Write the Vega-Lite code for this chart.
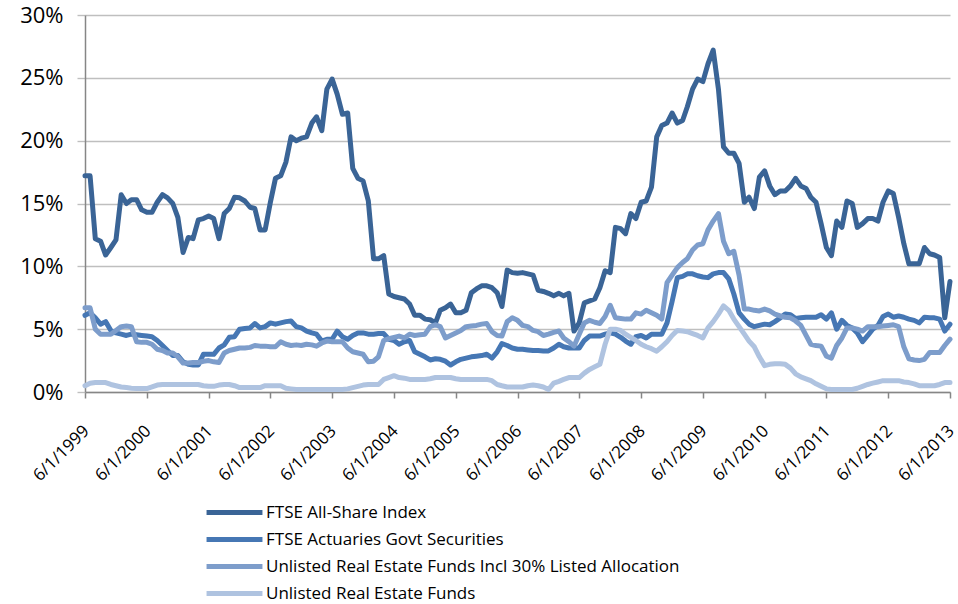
{
"$schema": "https://vega.github.io/schema/vega-lite/v6.json",
"width": 865, "height": 377,
"autosize": {"type": "none"},
"padding": {"left": 85, "top": 15, "right": 8, "bottom": 212},
"background": "white",
"datasets": {
"names": [
{"k": "a", "name": "FTSE All-Share Index"},
{"k": "g", "name": "FTSE Actuaries Govt Securities"},
{"k": "r", "name": "Unlisted Real Estate Funds Incl 30% Listed Allocation"},
{"k": "u", "name": "Unlisted Real Estate Funds"}
],
"main": [
{"d":"1999-06-01","a":17.2,"g":6.1,"r":6.7,"u":0.5},
{"d":"1999-07-01","a":17.2,"g":6.3,"r":6.7,"u":0.7},
{"d":"1999-08-01","a":12.2,"g":5.9,"r":5.0,"u":0.75},
{"d":"1999-09-01","a":12.0,"g":5.4,"r":4.6,"u":0.75},
{"d":"1999-10-01","a":10.9,"g":5.6,"r":4.6,"u":0.75},
{"d":"1999-11-01","a":11.5,"g":4.9,"r":4.6,"u":0.6},
{"d":"1999-12-01","a":12.1,"g":4.7,"r":4.9,"u":0.5},
{"d":"2000-01-01","a":15.7,"g":4.6,"r":5.2,"u":0.4},
{"d":"2000-02-01","a":15.0,"g":4.5,"r":5.25,"u":0.35},
{"d":"2000-03-01","a":15.3,"g":4.6,"r":5.2,"u":0.3},
{"d":"2000-04-01","a":15.3,"g":4.55,"r":4.0,"u":0.27},
{"d":"2000-05-01","a":14.5,"g":4.5,"r":3.95,"u":0.27},
{"d":"2000-06-01","a":14.3,"g":4.45,"r":3.95,"u":0.27},
{"d":"2000-07-01","a":14.3,"g":4.4,"r":3.8,"u":0.4},
{"d":"2000-08-01","a":15.1,"g":4.1,"r":3.4,"u":0.55},
{"d":"2000-09-01","a":15.7,"g":3.7,"r":3.3,"u":0.6},
{"d":"2000-10-01","a":15.45,"g":3.3,"r":3.1,"u":0.6},
{"d":"2000-11-01","a":15.0,"g":2.9,"r":3.1,"u":0.6},
{"d":"2000-12-01","a":13.9,"g":2.9,"r":2.8,"u":0.6},
{"d":"2001-01-01","a":11.1,"g":2.4,"r":2.3,"u":0.6},
{"d":"2001-02-01","a":12.3,"g":2.2,"r":2.3,"u":0.6},
{"d":"2001-03-01","a":12.2,"g":2.15,"r":2.35,"u":0.6},
{"d":"2001-04-01","a":13.7,"g":2.15,"r":2.35,"u":0.6},
{"d":"2001-05-01","a":13.8,"g":3.0,"r":2.45,"u":0.5},
{"d":"2001-06-01","a":14.0,"g":3.0,"r":2.5,"u":0.45},
{"d":"2001-07-01","a":13.8,"g":3.0,"r":2.4,"u":0.45},
{"d":"2001-08-01","a":12.2,"g":3.5,"r":2.35,"u":0.55},
{"d":"2001-09-01","a":14.2,"g":3.75,"r":3.1,"u":0.6},
{"d":"2001-10-01","a":14.6,"g":4.35,"r":3.3,"u":0.6},
{"d":"2001-11-01","a":15.5,"g":4.4,"r":3.4,"u":0.5},
{"d":"2001-12-01","a":15.45,"g":5.0,"r":3.5,"u":0.35},
{"d":"2002-01-01","a":15.2,"g":5.05,"r":3.5,"u":0.35},
{"d":"2002-02-01","a":14.7,"g":5.1,"r":3.55,"u":0.35},
{"d":"2002-03-01","a":14.6,"g":5.45,"r":3.7,"u":0.35},
{"d":"2002-04-01","a":12.9,"g":5.1,"r":3.65,"u":0.35},
{"d":"2002-05-01","a":12.9,"g":5.2,"r":3.65,"u":0.5},
{"d":"2002-06-01","a":15.1,"g":5.5,"r":3.6,"u":0.5},
{"d":"2002-07-01","a":17.0,"g":5.4,"r":3.6,"u":0.5},
{"d":"2002-08-01","a":17.2,"g":5.5,"r":4.0,"u":0.5},
{"d":"2002-09-01","a":18.3,"g":5.6,"r":3.8,"u":0.3},
{"d":"2002-10-01","a":20.3,"g":5.65,"r":3.7,"u":0.25},
{"d":"2002-11-01","a":20.0,"g":5.2,"r":3.75,"u":0.2},
{"d":"2002-12-01","a":20.2,"g":5.1,"r":3.7,"u":0.2},
{"d":"2003-01-01","a":20.3,"g":4.85,"r":3.8,"u":0.2},
{"d":"2003-02-01","a":21.4,"g":4.7,"r":3.75,"u":0.2},
{"d":"2003-03-01","a":21.9,"g":4.6,"r":3.65,"u":0.2},
{"d":"2003-04-01","a":20.8,"g":4.05,"r":3.9,"u":0.2},
{"d":"2003-05-01","a":24.1,"g":4.2,"r":4.05,"u":0.2},
{"d":"2003-06-01","a":24.9,"g":4.2,"r":4.0,"u":0.2},
{"d":"2003-07-01","a":23.7,"g":4.85,"r":4.0,"u":0.2},
{"d":"2003-08-01","a":22.1,"g":4.4,"r":4.0,"u":0.2},
{"d":"2003-09-01","a":22.2,"g":4.2,"r":3.5,"u":0.25},
{"d":"2003-10-01","a":17.8,"g":4.5,"r":3.2,"u":0.35},
{"d":"2003-11-01","a":17.0,"g":4.7,"r":3.1,"u":0.45},
{"d":"2003-12-01","a":16.8,"g":4.7,"r":3.0,"u":0.55},
{"d":"2004-01-01","a":15.2,"g":4.6,"r":2.4,"u":0.6},
{"d":"2004-02-01","a":10.6,"g":4.6,"r":2.45,"u":0.6},
{"d":"2004-03-01","a":10.6,"g":4.65,"r":2.8,"u":0.6},
{"d":"2004-04-01","a":10.85,"g":4.65,"r":4.1,"u":1.0},
{"d":"2004-05-01","a":7.8,"g":4.2,"r":4.25,"u":1.15},
{"d":"2004-06-01","a":7.6,"g":4.1,"r":4.35,"u":1.3},
{"d":"2004-07-01","a":7.5,"g":3.8,"r":4.45,"u":1.15},
{"d":"2004-08-01","a":7.4,"g":4.0,"r":4.3,"u":1.1},
{"d":"2004-09-01","a":7.0,"g":4.1,"r":4.6,"u":1.0},
{"d":"2004-10-01","a":6.1,"g":3.2,"r":4.5,"u":1.0},
{"d":"2004-11-01","a":6.1,"g":3.0,"r":4.55,"u":1.0},
{"d":"2004-12-01","a":5.8,"g":2.8,"r":4.6,"u":1.0},
{"d":"2005-01-01","a":5.75,"g":2.55,"r":5.2,"u":1.05},
{"d":"2005-02-01","a":5.5,"g":2.65,"r":5.35,"u":1.15},
{"d":"2005-03-01","a":6.5,"g":2.6,"r":5.2,"u":1.15},
{"d":"2005-04-01","a":6.7,"g":2.45,"r":4.3,"u":1.15},
{"d":"2005-05-01","a":7.0,"g":2.15,"r":4.5,"u":1.15},
{"d":"2005-06-01","a":6.3,"g":2.4,"r":4.7,"u":1.05},
{"d":"2005-07-01","a":6.3,"g":2.6,"r":4.9,"u":1.0},
{"d":"2005-08-01","a":6.5,"g":2.7,"r":5.2,"u":1.0},
{"d":"2005-09-01","a":7.9,"g":2.8,"r":5.25,"u":1.0},
{"d":"2005-10-01","a":8.2,"g":2.85,"r":5.3,"u":1.0},
{"d":"2005-11-01","a":8.45,"g":2.9,"r":5.4,"u":1.0},
{"d":"2005-12-01","a":8.45,"g":3.0,"r":5.45,"u":1.0},
{"d":"2006-01-01","a":8.3,"g":2.7,"r":4.8,"u":0.9},
{"d":"2006-02-01","a":7.9,"g":3.2,"r":4.5,"u":0.6},
{"d":"2006-03-01","a":6.8,"g":3.85,"r":4.45,"u":0.5},
{"d":"2006-04-01","a":9.7,"g":3.7,"r":5.6,"u":0.4},
{"d":"2006-05-01","a":9.5,"g":3.5,"r":5.9,"u":0.4},
{"d":"2006-06-01","a":9.45,"g":3.4,"r":5.7,"u":0.4},
{"d":"2006-07-01","a":9.5,"g":3.4,"r":5.3,"u":0.4},
{"d":"2006-08-01","a":9.4,"g":3.35,"r":5.2,"u":0.5},
{"d":"2006-09-01","a":9.3,"g":3.3,"r":4.9,"u":0.55},
{"d":"2006-10-01","a":8.1,"g":3.3,"r":4.8,"u":0.5},
{"d":"2006-11-01","a":8.0,"g":3.27,"r":4.5,"u":0.4},
{"d":"2006-12-01","a":7.85,"g":3.27,"r":4.6,"u":0.2},
{"d":"2007-01-01","a":7.65,"g":3.5,"r":4.75,"u":0.7},
{"d":"2007-02-01","a":7.85,"g":3.8,"r":4.85,"u":0.85},
{"d":"2007-03-01","a":7.65,"g":3.6,"r":4.3,"u":1.0},
{"d":"2007-04-01","a":7.85,"g":3.5,"r":4.0,"u":1.15},
{"d":"2007-05-01","a":4.85,"g":3.5,"r":3.65,"u":1.15},
{"d":"2007-06-01","a":5.5,"g":3.5,"r":4.6,"u":1.15},
{"d":"2007-07-01","a":7.1,"g":4.1,"r":5.5,"u":1.5},
{"d":"2007-08-01","a":7.25,"g":4.45,"r":5.7,"u":1.8},
{"d":"2007-09-01","a":7.4,"g":4.45,"r":5.55,"u":2.0},
{"d":"2007-10-01","a":8.3,"g":4.45,"r":5.45,"u":2.2},
{"d":"2007-11-01","a":9.65,"g":4.6,"r":6.0,"u":3.8},
{"d":"2007-12-01","a":9.5,"g":4.7,"r":6.9,"u":5.0},
{"d":"2008-01-01","a":13.1,"g":4.6,"r":5.9,"u":5.0},
{"d":"2008-02-01","a":13.0,"g":4.35,"r":5.85,"u":4.9},
{"d":"2008-03-01","a":12.6,"g":4.05,"r":5.8,"u":4.6},
{"d":"2008-04-01","a":14.2,"g":3.8,"r":5.8,"u":4.35},
{"d":"2008-05-01","a":13.8,"g":4.4,"r":6.3,"u":4.1},
{"d":"2008-06-01","a":15.1,"g":4.5,"r":6.2,"u":3.8},
{"d":"2008-07-01","a":15.2,"g":4.3,"r":6.5,"u":3.6},
{"d":"2008-08-01","a":16.3,"g":4.6,"r":6.3,"u":3.45},
{"d":"2008-09-01","a":20.3,"g":4.6,"r":6.1,"u":3.25},
{"d":"2008-10-01","a":21.2,"g":4.6,"r":5.8,"u":3.6},
{"d":"2008-11-01","a":21.4,"g":5.5,"r":8.7,"u":4.0},
{"d":"2008-12-01","a":22.2,"g":7.2,"r":9.3,"u":4.5},
{"d":"2009-01-01","a":21.4,"g":9.1,"r":9.9,"u":4.9},
{"d":"2009-02-01","a":21.6,"g":9.2,"r":10.3,"u":4.85},
{"d":"2009-03-01","a":22.7,"g":9.4,"r":10.6,"u":4.8},
{"d":"2009-04-01","a":24.1,"g":9.4,"r":11.3,"u":4.65},
{"d":"2009-05-01","a":24.9,"g":9.25,"r":11.7,"u":4.5},
{"d":"2009-06-01","a":24.7,"g":9.15,"r":11.8,"u":4.3},
{"d":"2009-07-01","a":26.1,"g":9.1,"r":12.9,"u":5.1},
{"d":"2009-08-01","a":27.2,"g":9.4,"r":13.6,"u":5.6},
{"d":"2009-09-01","a":24.1,"g":9.5,"r":14.2,"u":6.2},
{"d":"2009-10-01","a":19.5,"g":9.5,"r":12.0,"u":6.85},
{"d":"2009-11-01","a":19.0,"g":9.0,"r":11.0,"u":6.5},
{"d":"2009-12-01","a":19.0,"g":7.8,"r":11.2,"u":5.8},
{"d":"2010-01-01","a":18.2,"g":6.3,"r":9.3,"u":5.2},
{"d":"2010-02-01","a":15.1,"g":5.8,"r":6.6,"u":4.6},
{"d":"2010-03-01","a":15.5,"g":5.4,"r":6.6,"u":4.05},
{"d":"2010-04-01","a":14.6,"g":5.2,"r":6.5,"u":3.6},
{"d":"2010-05-01","a":17.1,"g":5.3,"r":6.45,"u":2.8},
{"d":"2010-06-01","a":17.6,"g":5.4,"r":6.6,"u":2.1},
{"d":"2010-07-01","a":16.4,"g":5.35,"r":6.45,"u":2.2},
{"d":"2010-08-01","a":15.7,"g":5.6,"r":6.2,"u":2.25},
{"d":"2010-09-01","a":16.0,"g":5.9,"r":6.05,"u":2.25},
{"d":"2010-10-01","a":16.0,"g":6.2,"r":5.95,"u":2.2},
{"d":"2010-11-01","a":16.4,"g":6.15,"r":5.9,"u":1.9},
{"d":"2010-12-01","a":17.0,"g":5.85,"r":5.65,"u":1.45},
{"d":"2011-01-01","a":16.4,"g":5.9,"r":5.3,"u":1.2},
{"d":"2011-02-01","a":16.2,"g":5.95,"r":4.5,"u":1.05},
{"d":"2011-03-01","a":15.5,"g":5.95,"r":3.8,"u":0.9},
{"d":"2011-04-01","a":15.1,"g":5.95,"r":3.7,"u":0.65},
{"d":"2011-05-01","a":13.4,"g":6.15,"r":3.65,"u":0.45},
{"d":"2011-06-01","a":11.5,"g":5.8,"r":2.85,"u":0.25},
{"d":"2011-07-01","a":10.85,"g":6.3,"r":2.7,"u":0.2},
{"d":"2011-08-01","a":13.6,"g":5.0,"r":3.7,"u":0.2},
{"d":"2011-09-01","a":13.1,"g":5.7,"r":4.3,"u":0.2},
{"d":"2011-10-01","a":15.2,"g":5.3,"r":5.1,"u":0.2},
{"d":"2011-11-01","a":15.0,"g":5.1,"r":5.1,"u":0.2},
{"d":"2011-12-01","a":13.1,"g":4.7,"r":5.0,"u":0.3},
{"d":"2012-01-01","a":13.4,"g":4.0,"r":4.85,"u":0.45},
{"d":"2012-02-01","a":13.8,"g":4.5,"r":5.2,"u":0.6},
{"d":"2012-03-01","a":13.8,"g":5.0,"r":5.2,"u":0.7},
{"d":"2012-04-01","a":13.6,"g":5.3,"r":5.2,"u":0.8},
{"d":"2012-05-01","a":15.1,"g":6.0,"r":5.25,"u":0.9},
{"d":"2012-06-01","a":16.0,"g":6.2,"r":5.3,"u":0.9},
{"d":"2012-07-01","a":15.8,"g":5.95,"r":5.35,"u":0.9},
{"d":"2012-08-01","a":13.9,"g":6.05,"r":5.2,"u":0.9},
{"d":"2012-09-01","a":11.8,"g":5.95,"r":3.6,"u":0.8},
{"d":"2012-10-01","a":10.2,"g":5.8,"r":2.65,"u":0.75},
{"d":"2012-11-01","a":10.2,"g":5.7,"r":2.55,"u":0.65},
{"d":"2012-12-01","a":10.2,"g":5.5,"r":2.5,"u":0.5},
{"d":"2013-01-01","a":11.5,"g":5.95,"r":2.6,"u":0.5},
{"d":"2013-02-01","a":11.0,"g":5.9,"r":3.15,"u":0.5},
{"d":"2013-03-01","a":10.9,"g":5.9,"r":3.15,"u":0.5},
{"d":"2013-04-01","a":10.7,"g":5.8,"r":3.15,"u":0.6},
{"d":"2013-05-01","a":5.9,"g":4.85,"r":3.7,"u":0.75},
{"d":"2013-06-01","a":8.8,"g":5.4,"r":4.2,"u":0.75}
]
},
"data": {"name": "main"},
"transform": [
{"fold": ["a", "g", "r", "u"], "as": ["k", "v"]},
{"lookup": "k", "from": {"data": {"name": "names"}, "key": "k", "fields": ["name"]}}
],
"mark": {"type": "line", "strokeWidth": 5, "strokeJoin": "round", "strokeCap": "round", "clip": false},
"encoding": {
"x": {
"field": "d", "type": "temporal",
"scale": {"type": "utc", "domain": [{"year": 1999, "month": 6, "date": 1, "utc": true}, {"year": 2013, "month": 6, "date": 1, "utc": true}]},
"axis": {
"title": null, "grid": false,
"values": [
{"year":1999,"month":6,"date":1,"utc":true},{"year":2000,"month":6,"date":1,"utc":true},{"year":2001,"month":6,"date":1,"utc":true},{"year":2002,"month":6,"date":1,"utc":true},{"year":2003,"month":6,"date":1,"utc":true},{"year":2004,"month":6,"date":1,"utc":true},{"year":2005,"month":6,"date":1,"utc":true},{"year":2006,"month":6,"date":1,"utc":true},{"year":2007,"month":6,"date":1,"utc":true},{"year":2008,"month":6,"date":1,"utc":true},{"year":2009,"month":6,"date":1,"utc":true},{"year":2010,"month":6,"date":1,"utc":true},{"year":2011,"month":6,"date":1,"utc":true},{"year":2012,"month":6,"date":1,"utc":true},{"year":2013,"month":6,"date":1,"utc":true}
],
"labelExpr": "utcFormat(datum.value, '%-m/%-d/%Y')",
"labelAngle": -45, "labelAlign": "right", "labelBaseline": "middle",
"labelFont": "Open Sans", "labelFontSize": 17, "labelColor": "#000000",
"labelPadding": 30, "labelOffset": 1, "labelOverlap": false, "labelFlush": false, "labelBound": false,
"domainColor": "#868686", "domainWidth": 1.5,
"tickColor": "#868686", "tickWidth": 1.5, "tickSize": 6
}
},
"y": {
"field": "v", "type": "quantitative",
"scale": {"domain": [0, 30], "nice": false, "zero": true},
"axis": {
"title": null,
"values": [0, 5, 10, 15, 20, 25, 30],
"labelExpr": "datum.value + '%'",
"labelFont": "Open Sans", "labelFontSize": 22, "labelColor": "#000000",
"labelPadding": 14,
"grid": true, "gridColor": "#BFBFBF", "gridWidth": 1.4,
"domainColor": "#868686", "domainWidth": 1.5,
"tickColor": "#BFBFBF", "tickWidth": 1.4, "tickSize": 8
}
},
"color": {
"field": "name", "type": "nominal",
"scale": {
"domain": ["FTSE All-Share Index", "FTSE Actuaries Govt Securities", "Unlisted Real Estate Funds Incl 30% Listed Allocation", "Unlisted Real Estate Funds"],
"range": ["#3A6496", "#4677B4", "#7D9DCB", "#AFC3E0"]
},
"legend": {
"orient": "none", "legendX": 141, "legendY": 489,
"direction": "vertical", "title": null, "padding": 0,
"symbolType": "M-5,0H5", "symbolSize": 125, "symbolStrokeWidth": 5,
"labelFont": "Open Sans", "labelFontSize": 17, "labelColor": "#000000",
"labelOffset": 23, "labelLimit": 700, "rowPadding": 6
}
}
},
"config": {"view": {"stroke": null}, "font": "Open Sans"}
}
